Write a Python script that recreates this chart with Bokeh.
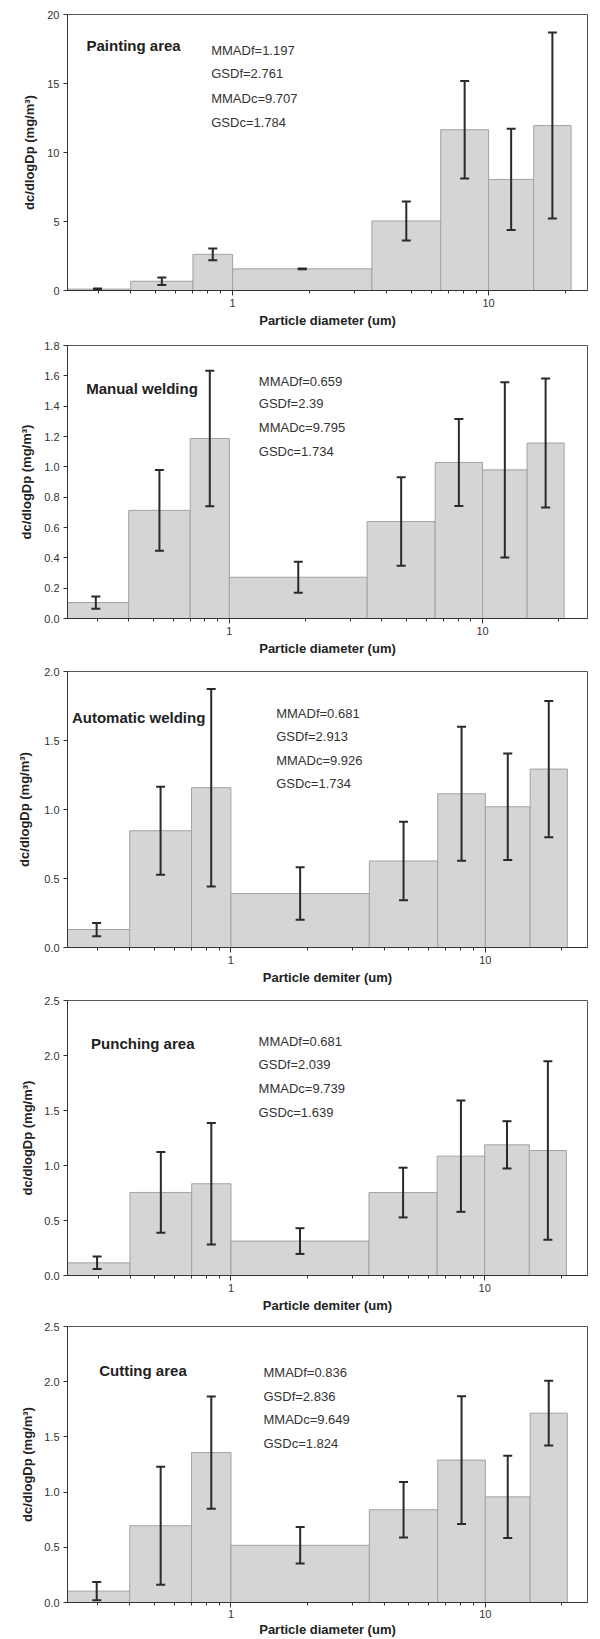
import numpy as np
from bokeh.plotting import figure
from bokeh.models import (Range1d, FixedTicker, PrintfTickFormatter, Whisker,
                          TeeHead, ColumnDataSource, Label)
from bokeh.layouts import column
from bokeh.embed import file_html
from bokeh.resources import INLINE

# ---------------- data ----------------
bin_edges = [0.22, 0.4, 0.7, 1.0, 3.5, 6.5, 10, 15, 21]

painting_mean = [0.10, 0.67, 2.62, 1.57, 5.04, 11.65, 8.05, 11.95]
painting_sd = [0.05, 0.27, 0.42, 0.03, 1.41, 3.54, 3.67, 6.74]
painting_stats = ["MMADf=1.197", "GSDf=2.761", "MMADc=9.707", "GSDc=1.784"]

manual_mean = [0.105, 0.713, 1.187, 0.272, 0.639, 1.029, 0.980, 1.157]
manual_sd = [0.040, 0.266, 0.447, 0.103, 0.292, 0.287, 0.578, 0.425]
manual_stats = ["MMADf=0.659", "GSDf=2.39", "MMADc=9.795", "GSDc=1.734"]

automatic_mean = [0.130, 0.846, 1.158, 0.391, 0.627, 1.114, 1.020, 1.293]
automatic_sd = [0.048, 0.318, 0.716, 0.190, 0.284, 0.486, 0.386, 0.494]
automatic_stats = ["MMADf=0.681", "GSDf=2.913", "MMADc=9.926", "GSDc=1.734"]

punching_mean = [0.115, 0.755, 0.834, 0.313, 0.754, 1.085, 1.188, 1.136]
punching_sd = [0.057, 0.367, 0.553, 0.117, 0.226, 0.506, 0.215, 0.812]
punching_stats = ["MMADf=0.681", "GSDf=2.039", "MMADc=9.739", "GSDc=1.639"]

cutting_mean = [0.103, 0.695, 1.358, 0.518, 0.840, 1.290, 0.957, 1.715]
cutting_sd = [0.083, 0.534, 0.509, 0.165, 0.251, 0.578, 0.372, 0.293]
cutting_stats = ["MMADf=0.836", "GSDf=2.836", "MMADc=9.649", "GSDc=1.824"]

titles = ["Painting area", "Manual welding", "Automatic welding",
          "Punching area", "Cutting area"]
x_labels = ["Particle diameter (um)", "Particle diameter (um)",
            "Particle demiter (um)", "Particle demiter (um)",
            "Particle diameter (um)"]
y_label = "dc/dlogDp (mg/m\u00b3)"

y_ticks_painting = [0, 5, 10, 15, 20]
y_ticks_manual = [0.0, 0.2, 0.4, 0.6, 0.8, 1.0, 1.2, 1.4, 1.6, 1.8]
y_ticks_automatic = [0.0, 0.5, 1.0, 1.5, 2.0]
y_ticks_punching = [0.0, 0.5, 1.0, 1.5, 2.0, 2.5]
y_ticks_cutting = [0.0, 0.5, 1.0, 1.5, 2.0, 2.5]

x_major = [1, 10]
x_minor = [0.3, 0.4, 0.5, 0.6, 0.7, 0.8, 0.9, 2, 3, 4, 5, 6, 7, 8, 9, 20]

# ---------------- layout / style ----------------
FONT = "Liberation Sans"
W = 600

panels = [
    dict(mean=painting_mean, sd=painting_sd, stats=painting_stats,
         yticks=y_ticks_painting, fmt="%d", yr=(0, 20), xr=(0.2265, 24.34),
         h=334, bl=56, br=13, bt=14, bb=44, ylab_off=7,
         title_xy=(0.2686, 17.75), stats_x=0.825, stats_y=[17.39, 15.70, 13.89, 12.20]),
    dict(mean=manual_mean, sd=manual_sd, stats=manual_stats,
         yticks=y_ticks_manual, fmt="%.1f", yr=(0, 1.8), xr=(0.2293, 25.98),
         h=327, bl=65, br=5, bt=11, bb=43, ylab_off=7,
         title_xy=(0.2717, 1.515), stats_x=1.307, stats_y=[1.565, 1.416, 1.258, 1.104]),
    dict(mean=automatic_mean, sd=automatic_sd, stats=automatic_stats,
         yticks=y_ticks_automatic, fmt="%.1f", yr=(0, 2.0), xr=(0.2279, 25.2),
         h=329, bl=67, br=1, bt=10, bb=43, ylab_off=9,
         title_xy=(0.2373, 1.667), stats_x=1.506, stats_y=[1.699, 1.528, 1.354, 1.186]),
    dict(mean=punching_mean, sd=punching_sd, stats=punching_stats,
         yticks=y_ticks_punching, fmt="%.1f", yr=(0, 2.5), xr=(0.2268, 25.43),
         h=326, bl=63, br=1, bt=10, bb=41, ylab_off=6,
         title_xy=(0.281, 2.112), stats_x=1.285, stats_y=[2.13, 1.918, 1.697, 1.485]),
    dict(mean=cutting_mean, sd=cutting_sd, stats=cutting_stats,
         yticks=y_ticks_cutting, fmt="%.1f", yr=(0, 2.5), xr=(0.2277, 25.21),
         h=323, bl=63, br=1, bt=10, bb=36, ylab_off=6, compact=True,
         title_xy=(0.3034, 2.1), stats_x=1.342, stats_y=[2.085, 1.869, 1.656, 1.44]),
]

edges = np.array(bin_edges, dtype=float)
lefts = edges[:-1]
rights = edges[1:]
mids = np.sqrt(lefts * rights)

figs = []
for i, cfg in enumerate(panels):
    p = figure(width=W, height=cfg["h"], x_axis_type="log",
               x_range=Range1d(*cfg["xr"]), y_range=Range1d(*cfg["yr"]),
               output_backend="svg", toolbar_location=None,
               min_border_left=cfg["bl"], min_border_right=cfg["br"],
               min_border_top=cfg["bt"], min_border_bottom=cfg["bb"])
    p.xgrid.visible = False
    p.ygrid.visible = False
    p.background_fill_color = "white"
    p.border_fill_color = "white"
    p.outline_line_color = "#555555"
    p.outline_line_width = 1

    mean = np.array(cfg["mean"])
    sd = np.array(cfg["sd"])
    src = ColumnDataSource(dict(left=lefts, right=rights, top=mean,
                                base=mids, upper=mean + sd, lower=mean - sd))
    p.quad(left="left", right="right", bottom=0, top="top", source=src,
           fill_color="#d5d5d5", line_color="#a2a2a2", line_width=1)

    wk = Whisker(base="base", upper="upper", lower="lower", source=src,
                 level="annotation",
                 line_color="#2a2a2a", line_width=2,
                 upper_head=TeeHead(size=9, line_color="#2a2a2a", line_width=2),
                 lower_head=TeeHead(size=9, line_color="#2a2a2a", line_width=2))
    p.add_layout(wk)

    # x axis
    xa = p.xaxis[0]
    xa.ticker = FixedTicker(ticks=x_major, minor_ticks=x_minor)
    xa.formatter = PrintfTickFormatter(format="%d")
    xa.axis_label = x_labels[i]
    xa.axis_label_text_font = FONT
    xa.axis_label_text_font_style = "bold"
    xa.axis_label_text_font_size = "13px"
    xa.axis_label_text_color = "#222222"
    xa.major_label_text_font = FONT
    xa.major_label_text_font_size = "11px"
    xa.major_label_text_color = "#333333"
    xa.axis_line_color = "#333333"
    xa.major_tick_line_color = "#333333"
    xa.minor_tick_line_color = "#333333"
    xa.major_tick_in = 0
    xa.minor_tick_in = 0
    xa.major_tick_out = 5
    xa.minor_tick_out = 3
    if cfg.get("compact"):
        xa.major_label_standoff = 2
        xa.axis_label_standoff = 1
    else:
        xa.major_label_standoff = 3
        xa.axis_label_standoff = 3

    # y axis
    ya = p.yaxis[0]
    ya.ticker = FixedTicker(ticks=cfg["yticks"])
    ya.formatter = PrintfTickFormatter(format=cfg["fmt"])
    ya.axis_label = y_label
    ya.axis_label_text_font = FONT
    ya.axis_label_text_font_style = "bold"
    ya.axis_label_text_font_size = "13px"
    ya.axis_label_text_color = "#222222"
    ya.major_label_text_font = FONT
    ya.major_label_text_font_size = "11px"
    ya.major_label_text_color = "#333333"
    ya.axis_line_color = "#333333"
    ya.major_tick_line_color = "#333333"
    ya.major_tick_in = 0
    ya.major_tick_out = 4
    ya.minor_tick_line_color = None
    ya.major_label_standoff = 4
    ya.axis_label_standoff = cfg["ylab_off"]

    # annotations
    tx, ty = cfg["title_xy"]
    p.add_layout(Label(x=tx, y=ty, text=titles[i], text_font=FONT,
                       text_font_style="bold", text_font_size="15px",
                       text_color="#222222", text_baseline="middle"))
    for s, sy in zip(cfg["stats"], cfg["stats_y"]):
        p.add_layout(Label(x=cfg["stats_x"], y=sy, text=s, text_font=FONT,
                           text_font_size="13px", text_color="#333333",
                           text_baseline="middle"))
    figs.append(p)

layout = column(*figs, spacing=0)
open("out.html", "w").write(file_html(layout, INLINE))
